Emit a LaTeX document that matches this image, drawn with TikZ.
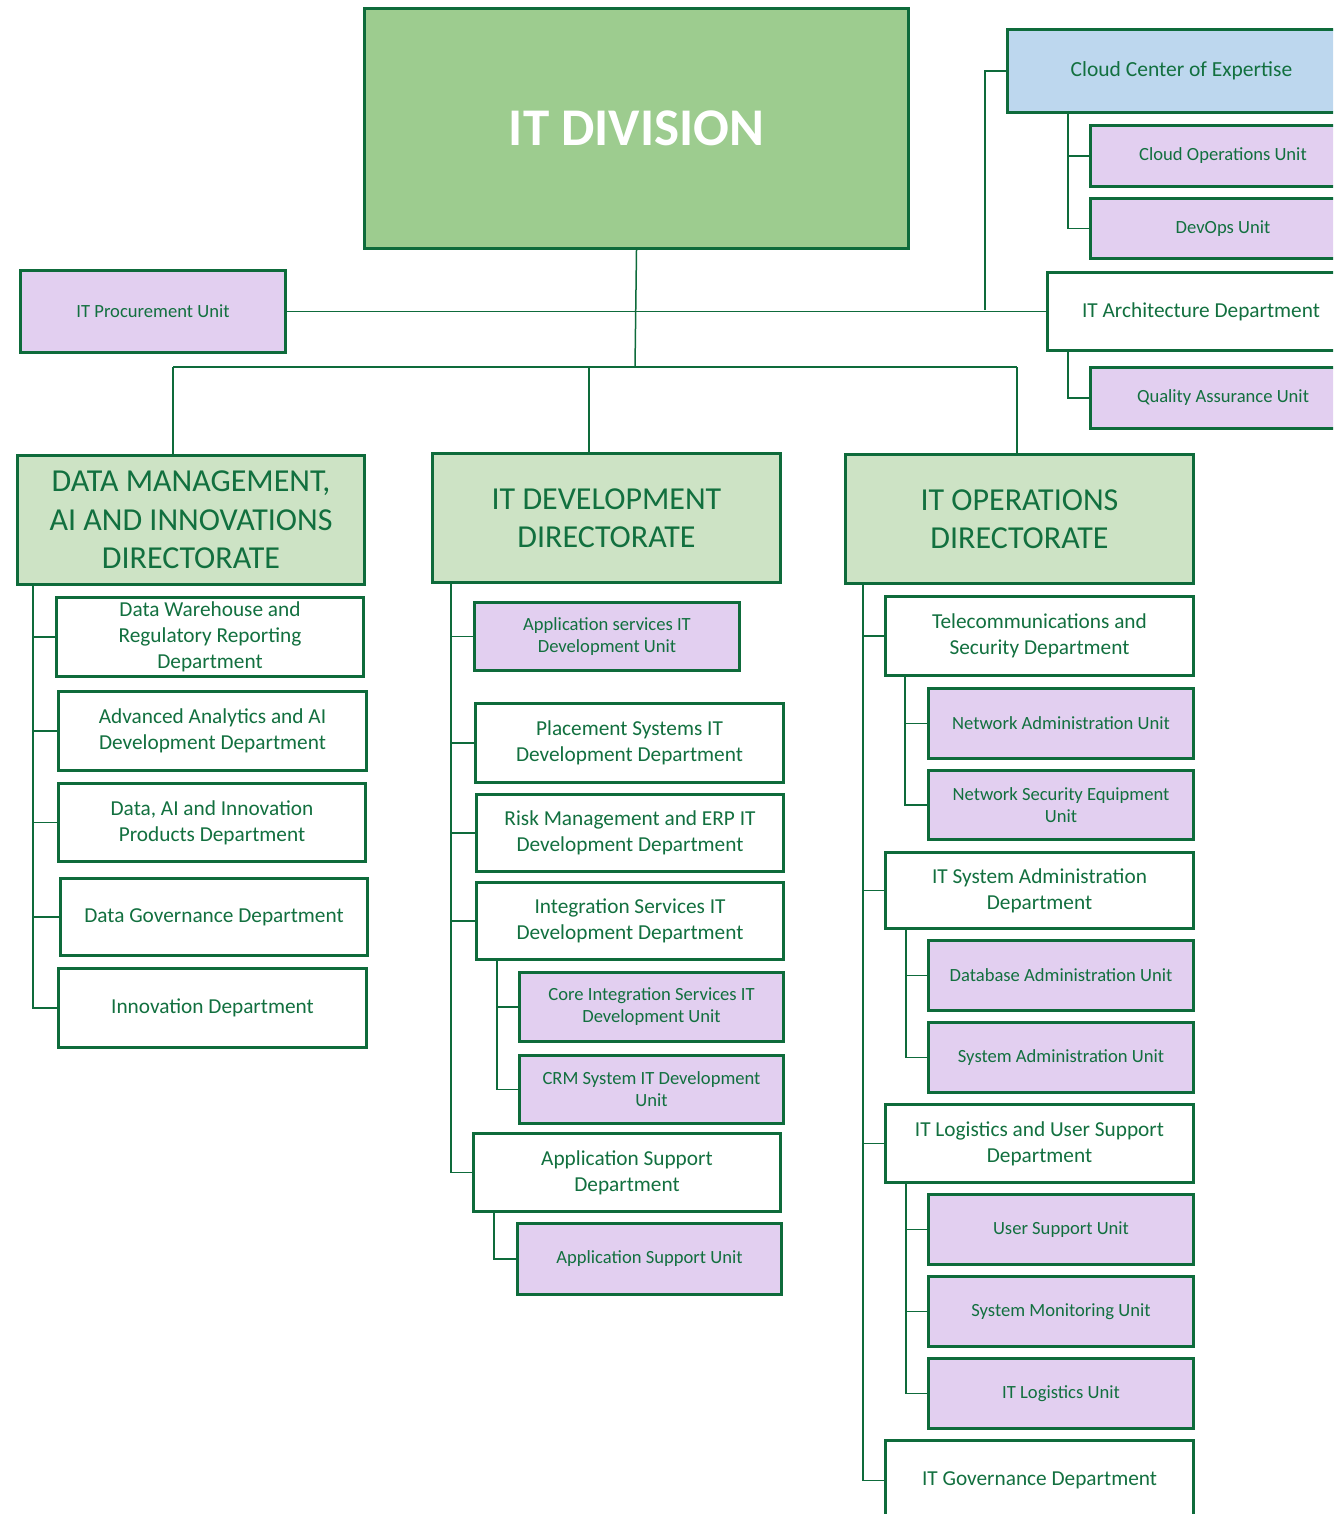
\documentclass[tikz,border=0pt]{standalone}
\usepackage{fontspec}
\setmainfont{Carlito}
\usepackage{xcolor}
\usepackage{tikz}
\usetikzlibrary{positioning}
\definecolor{orgline}{HTML}{0E6B3B}
\definecolor{orgtext}{HTML}{12703F}
\definecolor{divfill}{HTML}{9DCC8F}
\definecolor{dirfill}{HTML}{CDE3C5}
\definecolor{unitfill}{HTML}{E2CFF0}
\definecolor{coefill}{HTML}{BDD7EE}
\tikzset{
  box/.style={draw=orgline, line width=3pt, anchor=north west, align=center,
    text=orgtext, inner sep=2pt},
  boxsize/.style 2 args={minimum width=#1pt, minimum height=#2pt},
  division/.style={box, fill=divfill, text=white, font=\fontsize{53}{60}\selectfont\bfseries},
  directorate/.style={box, fill=dirfill, font=\fontsize{32}{38.5}\selectfont},
  dept/.style={box, fill=white, font=\fontsize{21.3}{26}\selectfont},
  unit/.style={box, fill=unitfill, font=\fontsize{18.6}{22}\selectfont},
  coe/.style={box, fill=coefill, font=\fontsize{21.5}{25}\selectfont},
  link/.style={draw=orgline, line width=1.5pt} % plain connector
}

\begin{document}
\begin{tikzpicture}[x=1pt, y=-1pt]
  \useasboundingbox (0,0) rectangle (1333,1514);
  \clip (0,0) rectangle (1333,1514);

  % Top level
  \node[division, boxsize={544}{240}] (div) at (363,7) {IT DIVISION};
  \node[unit, boxsize={265}{82}] (proc) at (19,269) {IT Procurement Unit};

  % Staff units on the right
  \node[coe, boxsize={348}{83}] (coe) at (1006,28) {Cloud Center of Expertise};
  \node[unit, boxsize={265}{61}] (cops) at (1089,124) {Cloud Operations Unit};
  \node[unit, boxsize={265}{60}] (devops) at (1089,197) {DevOps Unit};
  \node[dept, boxsize={307}{78}] (arch) at (1046,271) {IT Architecture Department};
  \node[unit, boxsize={265}{61}] (qa) at (1089,366) {Quality Assurance Unit};

  % Directorates
  \node[directorate, boxsize={347}{129}] (dmdir) at (16,454)
    {DATA MANAGEMENT,\\AI AND INNOVATIONS\\DIRECTORATE};
  \node[directorate, boxsize={348}{129}] (devdir) at (431,452)
    {IT DEVELOPMENT\\DIRECTORATE};
  \node[directorate, boxsize={348}{129}] (opsdir) at (844,453)
    {IT OPERATIONS\\DIRECTORATE};

  % Data management column
  \node[dept, boxsize={307}{79}] (dwh) at (55,596)
    {Data Warehouse and\\Regulatory Reporting\\Department};
  \node[dept, boxsize={308}{79}] (aaai) at (57,690)
    {Advanced Analytics and AI\\Development Department};
  \node[dept, boxsize={307}{78}] (daip) at (57,782)
    {Data, AI and Innovation\\Products Department};
  \node[dept, boxsize={307}{77}] (dgov) at (59,877) {Data Governance Department};
  \node[dept, boxsize={308}{79}] (innov) at (57,967) {Innovation Department};

  % IT development column
  \node[unit, boxsize={265}{68}] (appsvc) at (473,601)
    {Application services IT\\Development Unit};
  \node[dept, boxsize={308}{79}] (placement) at (474,702)
    {Placement Systems IT\\Development Department};
  \node[dept, boxsize={307}{77}] (risk) at (475,793)
    {Risk Management and ERP IT\\Development Department};
  \node[dept, boxsize={307}{77}] (integ) at (475,881)
    {Integration Services IT\\Development Department};
  \node[unit, boxsize={264}{69}] (coreint) at (518,971)
    {Core Integration Services IT\\Development Unit};
  \node[unit, boxsize={264}{68}] (crm) at (518,1054)
    {CRM System IT Development\\Unit};
  \node[dept, boxsize={307}{78}] (appsup) at (472,1132)
    {Application Support\\Department};
  \node[unit, boxsize={264}{71}] (appsupu) at (516,1222) {Application Support Unit};

  % IT operations column
  \node[dept, boxsize={308}{79}] (telsec) at (884,595)
    {Telecommunications and\\Security Department};
  \node[unit, boxsize={265}{70}] (netadm) at (927,687) {Network Administration Unit};
  \node[unit, boxsize={265}{69}] (netsec) at (927,769)
    {Network Security Equipment\\Unit};
  \node[dept, boxsize={308}{76}] (sysadm) at (884,851)
    {IT System Administration\\Department};
  \node[unit, boxsize={265}{70}] (dbadm) at (927,939) {Database Administration Unit};
  \node[unit, boxsize={265}{70}] (sysadmu) at (927,1021) {System Administration Unit};
  \node[dept, boxsize={308}{78}] (logist) at (884,1103)
    {IT Logistics and User Support\\Department};
  \node[unit, boxsize={265}{70}] (usersup) at (927,1193) {User Support Unit};
  \node[unit, boxsize={265}{70}] (sysmon) at (927,1275) {System Monitoring Unit};
  \node[unit, boxsize={265}{70}] (itlog) at (927,1357) {IT Logistics Unit};
  \node[dept, boxsize={308}{80}] (itgov) at (884,1439) {IT Governance Department};

  % Trunk and bus
  \coordinate (bus) at (635,367);
  \coordinate (busdm) at (173,367);
  \coordinate (busdev) at (589,367);
  \coordinate (busops) at (1017,367);
  \coordinate (coej) at (985,310);
  \draw[link] (div.south) -- (bus);
  \draw[link] (proc.east) -- (arch.west);
  \draw[link] (coej) |- (coe.west);
  \draw[link] (busdm) -- (busops);
  \foreach \b/\d in {busdm/dmdir, busdev/devdir, busops/opsdir}
    \draw[link] (\b) -- (\b |- \d.north);

  % Spines
  \coordinate (coespine) at (1068,111);
  \coordinate (archspine) at (1068,349);
  \coordinate (dmspine) at (33,583);
  \coordinate (devspine) at (451,581);
  \coordinate (integspine) at (497,958);
  \coordinate (appspine) at (494,1210);
  \coordinate (opsspine) at (863,582);
  \coordinate (telspine) at (905,674);
  \coordinate (sysspine) at (906,927);
  \coordinate (logspine) at (906,1181);

  \foreach \s/\last/\others in {
      coespine/devops/{cops},
      archspine/qa/{},
      dmspine/innov/{dwh,aaai,daip,dgov},
      devspine/appsup/{appsvc,placement,risk,integ},
      integspine/crm/{coreint},
      appspine/appsupu/{},
      opsspine/itgov/{telsec,sysadm,logist},
      telspine/netsec/{netadm},
      sysspine/sysadmu/{dbadm},
      logspine/itlog/{usersup,sysmon}} {
    \draw[link] (\s) |- (\last.west);
    \foreach \n in \others
      \draw[link] (\s |- \n.west) -- (\n.west);
  }
\end{tikzpicture}
\end{document}
